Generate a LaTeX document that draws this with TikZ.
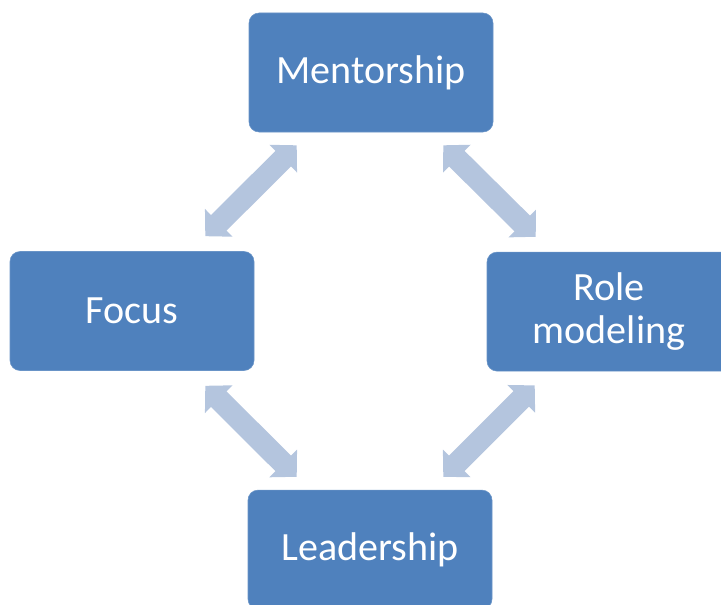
\documentclass[tikz,border=0pt]{standalone}
\usepackage{fontspec}
\setmainfont{Carlito}
\usetikzlibrary{arrows.meta}

\definecolor{boxblue}{HTML}{4F81BD}
\definecolor{arrowblue}{HTML}{B4C5DE}

\tikzset{
  stage/.style={fill=boxblue, draw=boxblue!85!white, rounded corners=0.25cm,
    minimum width=6.1cm, minimum height=2.975cm, text=white, align=center,
    font=\fontsize{28.5}{30}\selectfont},
  link/.style={arrowblue, line width=0.55cm,
    {Triangle[width=0.95cm,length=0.475cm]}-{Triangle[width=0.95cm,length=0.475cm]}}
}

\begin{document}
\begin{tikzpicture}
\useasboundingbox (0,0) rectangle (18.025,-15.1);
\begin{scope}
\clip (0,0) rectangle (18.025,-15.1);
\node[stage] (ment) at (9.275,-1.8125) {Mentorship};
\node[stage] (focus) at (3.3,-7.775) {Focus};
\node[stage] (role) at (15.225,-7.79) {Role\\modeling};
\node[stage] (lead) at (9.25,-13.74) {Leadership};
\end{scope}

\draw[link] ([shift={(1.2,-0.325)}]ment.south west) -- ([shift={(-1.225,0.375)}]focus.north east);
\draw[link] ([shift={(-1.25,-0.325)}]ment.south east) -- ([shift={(1.225,0.375)}]role.north west);
\draw[link] ([shift={(-1.225,-0.375)}]focus.south east) -- ([shift={(1.225,0.325)}]lead.north west);
\draw[link] ([shift={(1.2,-0.35)}]role.south west) -- ([shift={(-1.225,0.325)}]lead.north east);
\end{tikzpicture}
\end{document}
